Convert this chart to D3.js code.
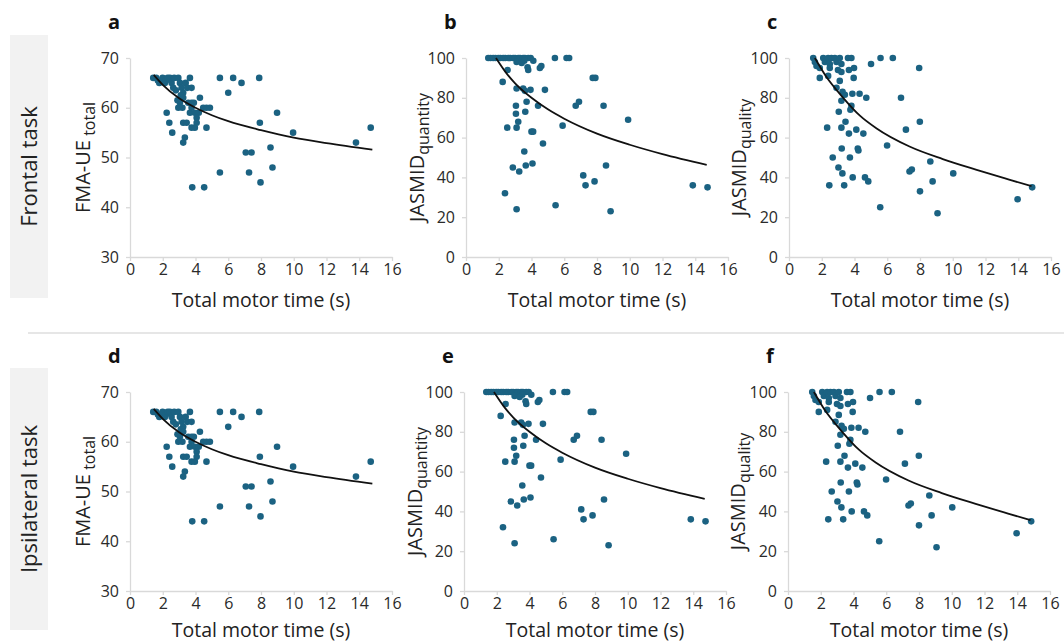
<!DOCTYPE html>
<html><head><meta charset="utf-8">
<script src="https://cdn.jsdelivr.net/npm/d3@7"></script>
<style>
body{margin:0;background:#fff}
svg{display:block}
text{font-family:"Open Sans",sans-serif}
</style>
</head><body>
<svg id="chart" width="1064" height="644"></svg>
<script>
// ---------- data ----------
const xTicks = [0, 2, 4, 6, 8, 10, 12, 14, 16];
const fmaTicks = [30, 40, 50, 60, 70];
const jasTicks = [0, 20, 40, 60, 80, 100];
const rowLabels = ["Frontal task", "Ipsilateral task"];
const panelLetters = ["a", "b", "c", "d", "e", "f"];
const xTitle = "Total motor time (s)";

// FMA-UE total vs total motor time
const fmaX = [1.42,1.6,1.79,1.7,1.99,2.13,2.2,2.3,2.44,2.54,2.64,2.7,2.95,3.05,3.15,3.25,3.4,3.5,3.66,3.76,2.8,3.1,3.25,3.05,2.9,2.95,3.2,3.56,3.76,3.9,4.27,3.76,3.66,3.96,4.2,4.47,4.67,4.88,2.24,2.40,2.58,3.25,3.46,4.07,4.07,3.76,3.96,4.67,3.35,3.25,5.49,6.3,6.81,7.89,6.0,8.98,7.93,9.96,7.07,7.42,8.58,13.8,14.7,5.49,7.27,8.7,7.97,3.8,4.53];
const fmaY = [66,66,65,65.5,66,65,65.5,66,66,65,64,66,66,65,64,63,65,64,66,64,63.5,62.5,62,61,61.5,60,60,61,61,61,62,60,59,59,59,60,60,60,59,57,55,57,57,58,57,56,56,56,54,53,66,66,65,66,63,59,57,55,51,51,52,53,56,47,47,48,45,44,44];

// JASMID quantity
const quantX = [1.36,1.5,1.66,1.8,1.97,2.1,2.27,2.4,2.58,2.7,2.88,3.0,3.19,3.3,3.49,3.6,3.8,3.95,5.43,6.14,6.3,3.09,3.56,3.4,4.11,3.76,3.8,4.51,4.6,2.54,2.24,7.74,7.9,3.09,3.49,3.6,3.94,4.82,3.7,6.7,6.9,8.4,4.4,3.05,3.05,3.62,3.19,2.52,3.09,5.9,4.0,4.1,4.7,9.9,3.56,2.86,3.25,3.65,4.06,7.16,7.3,7.85,8.55,2.38,5.47,3.09,8.83,13.85,14.75];
const quantY = [100,100,100,100,100,100,100,100,100,100,100,100,100,100,100,100,100,100,100,100,100,98,98.6,97.5,98.6,95.3,94,95,96,94,88,90,90,84.7,84.7,83.5,84,84,78,76,78,76,76,76,72,73,68,65,65,66,63,63,57,69,53,45,43,46,47,41,36,38,46,32,26,24,23,36,35];

// JASMID quality
const qualX = [1.48,1.58,1.68,1.88,2.09,2.19,2.39,2.49,2.59,2.8,2.9,3.1,3.2,3.6,3.81,5.59,6.34,5.01,7.95,2.49,1.88,2.39,2.99,3.2,3.66,3.97,3.95,3.1,2.9,3.27,3.41,3.2,3.87,4.31,4.72,3.81,3.75,3.04,3.45,2.33,3.2,3.66,4.11,4.54,6.84,7.14,7.99,5.99,3.22,4.2,4.24,2.67,3.72,3.02,3.26,3.89,4.64,4.84,2.46,3.37,7.36,7.5,8.63,8.77,8.0,10.03,5.57,9.07,13.96,14.85];
const qualY = [100,98,96,95,100,98,100,97,100,100,98,100,97,100,100,100,100,97,95,95,90,91,94,93,94,95,90,88.5,85,83,81.5,78.5,82,82,80,76,74,73,68,65,65,62,64,62,80,64,68,56,54.5,54.5,53.5,50,50,45,42,40,40,38,36,36,43,44,48,38,33,42,25,22,29,35];

// fitted trend lines
const fmaFitX = [1.45,2,3,4,5,6,8,10,12,14.8];
const fmaFitY = [66.6,64.6,61.9,60,58.5,57.3,55.5,54,52.9,51.6];
const quantFitX = [1.83,2.5,3,4,5,6,8,10,12,14.7];
const quantFitY = [100,92,87.3,80,74.2,69.5,62,56.4,51.7,46.3];
const qualFitX = [1.58,2.29,3.31,4.33,5.33,7.36,9.39,11.41,13.44,14.81];
const qualFitY = [100,90.4,80,71,64.7,55.5,49.2,43.9,38.9,35.6];

// ---------- layout ----------
const svg = d3.select("#chart");
const dotColor = "#1b6282";
const axisColor = "#d9d9d9";
const plotW = 262, plotH = 199;

const kinds = [
  {xs: fmaX, ys: fmaY, fx: fmaFitX, fy: fmaFitY, dom: [30, 70], ticks: fmaTicks, main: "FMA-UE", sub: " total", titleOff: 40},
  {xs: quantX, ys: quantY, fx: quantFitX, fy: quantFitY, dom: [0, 100], ticks: jasTicks, main: "JASMID", sub: "quantity", titleOff: 42},
  {xs: qualX, ys: qualY, fx: qualFitX, fy: qualFitY, dom: [0, 100], ticks: jasTicks, main: "JASMID", sub: "quality", titleOff: 43}
];
const colX = [[130, 466, 789], [130, 464, 788]];
const rowTop = [58, 392];
const xTitleOff = [50, 46];
const boxes = [[35, 298], [368, 630]];

// separator
svg.append("line").attr("x1", 28).attr("x2", 1064).attr("y1", 333).attr("y2", 333)
  .attr("stroke", "#dedede").attr("stroke-width", 1.5);

rowLabels.forEach((lab, r) => {
  const [y1, y2] = boxes[r];
  svg.append("rect").attr("x", 10).attr("y", y1).attr("width", 38).attr("height", y2 - y1).attr("fill", "#f2f2f2");
  svg.append("text").attr("transform", `translate(37,${(y1 + y2) / 2}) rotate(-90)`)
    .attr("text-anchor", "middle").attr("font-size", 22).attr("fill", "#222").text(lab);
});

rowTop.forEach((top, r) => {
  kinds.forEach((k, c) => {
    const x0 = colX[r][c];
    const x = d3.scaleLinear().domain([0, 16]).range([x0, x0 + plotW]);
    const y = d3.scaleLinear().domain(k.dom).range([top + plotH, top]);
    const g = svg.append("g");

    const ya = g.append("g").attr("transform", `translate(${x0},0)`)
      .call(d3.axisLeft(y).tickValues(k.ticks).tickSize(4).tickSizeOuter(0).tickPadding(7));
    const xa = g.append("g").attr("transform", `translate(0,${top + plotH})`)
      .call(d3.axisBottom(x).tickValues(xTicks).tickSize(4).tickSizeOuter(0).tickPadding(3));
    [ya, xa].forEach(a => {
      a.select(".domain").attr("stroke", axisColor).attr("stroke-width", 1.3);
      a.selectAll(".tick line").attr("stroke", axisColor).attr("stroke-width", 1.3);
      a.selectAll(".tick text").attr("font-size", 16).attr("fill", "#2a2a2a").style("font-family", '"Open Sans",sans-serif');
    });

    // dots
    g.append("g").selectAll("circle").data(k.xs.map((v, i) => [v, k.ys[i]])).join("circle")
      .attr("cx", d => x(d[0])).attr("cy", d => y(d[1])).attr("r", 3.3).attr("fill", dotColor);

    // trend line
    const line = d3.line().x(d => x(d[0])).y(d => y(d[1])).curve(d3.curveMonotoneX);
    g.append("path").datum(k.fx.map((v, i) => [v, k.fy[i]])).attr("d", line)
      .attr("fill", "none").attr("stroke", "#111").attr("stroke-width", 1.8);

    // x title
    g.append("text").attr("x", x0 + plotW / 2).attr("y", top + plotH + xTitleOff[r])
      .attr("text-anchor", "middle").attr("font-size", 19.5).attr("fill", "#222").text(xTitle);

    // y title
    const t = g.append("text").attr("transform", `translate(${x0 - k.titleOff},${top + plotH / 2}) rotate(-90)`)
      .attr("text-anchor", "middle").attr("fill", "#222");
    t.append("tspan").attr("font-size", 20).text(k.main);
    t.append("tspan").attr("font-size", 16).attr("dy", 5).text(k.sub);

    // panel letter
    g.append("text").attr("x", x0 - 22).attr("y", top - 29).attr("font-size", 20).attr("font-weight", "bold")
      .attr("fill", "#111").text(panelLetters[r * 3 + c]);
  });
});
</script>
</body></html>
